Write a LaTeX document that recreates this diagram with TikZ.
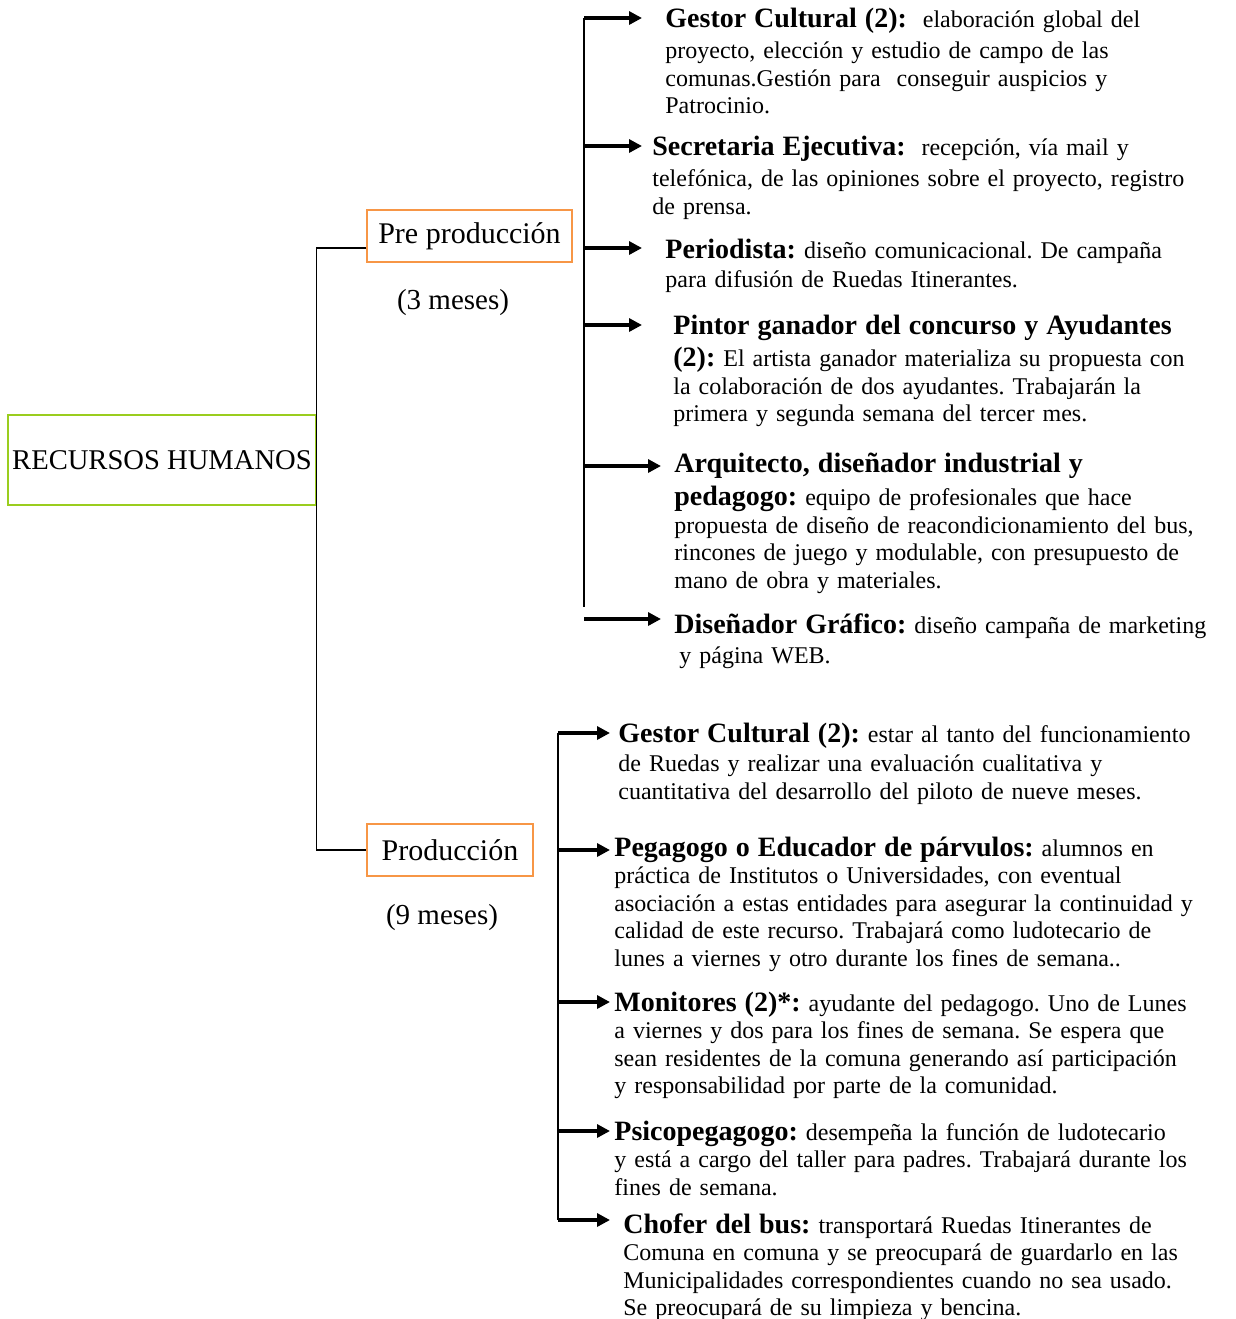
\documentclass[tikz,border=0pt]{standalone}
\usepackage{fontspec}
\setmainfont{Liberation Serif}
\usetikzlibrary{positioning,arrows.meta}

\definecolor{rootgreen}{RGB}{154,205,30}
\definecolor{stageorange}{RGB}{247,150,70}
\newcommand{\rol}[1]{{\fontsize{14}{13.75}\selectfont\bfseries #1}}
\frenchspacing

\begin{document}
\begin{tikzpicture}[x=0.5pt,y=-0.5pt,
      every node/.style={inner sep=0pt},
      rootbox/.style={draw=rootgreen,line width=0.8pt,minimum width=154pt,minimum height=45pt,
        font=\fontsize{14.3}{15}\selectfont},
      stagebox/.style={draw=stageorange,line width=0.8pt,minimum height=26pt,
        font=\fontsize{15}{16}\selectfont},
      months/.style={font=\fontsize{14.5}{16}\selectfont},
      item/.style={anchor=base west,text width=340pt,align=left,
        font=\fontsize{12}{13.75}\selectfont},
      arr/.style={line width=1.6pt,-{Triangle[length=6.5pt,width=6.5pt]}},
      spine/.style={line width=0.9pt},
      link/.style={line width=0.6pt}
    ]
    \useasboundingbox (0,0) rectangle (1236,1319);

    % the root and the two stages
    \node[rootbox] (rh) at (162,460) {RECURSOS HUMANOS};
    \node[stagebox,minimum width=102.5pt] (pre) at (469.5,236) {Pre producción};
    \node[months] (pret) at (453,303) {(3 meses)};
    \node[stagebox,minimum width=83pt] (pro) at (450,850) {Producción};
    \node[months] (prot) at (442,918) {(9 meses)};

    \draw[link] ([yshift=-6pt]pre.west) -| (rh.east) |- (pro.west);

    % the people of pre production
    \coordinate (pretop) at (584,18);
    \coordinate (prebot) at (584,607);
    \coordinate (pt1) at (642,18);
    \coordinate (pt2) at (642,146);
    \coordinate (pt3) at (642,248);
    \coordinate (pt4) at (642,325);
    \coordinate (pt5) at (661,466);
    \coordinate (pt6) at (661,619);

    \node[item] (g1) at (665,27) {\rol{Gestor Cultural (2):} \ elaboración global del\\[2pt]
      proyecto, elección y estudio de campo de las\\
      comunas.Gestión para \ conseguir auspicios y\\
      Patrocinio.};
    \node[item] (g2) at (652,155) {\rol{Secretaria Ejecutiva:} \ recepción, vía mail y\\[2pt]
      telefónica, de las opiniones sobre el proyecto, registro\\
      de prensa.};
    \node[item] (g3) at (665,258) {\rol{Periodista:} diseño comunicacional. De campaña\\[1pt]
      para difusión de Ruedas Itinerantes.};
    \node[item] (g4) at (673,334) {\rol{Pintor ganador del concurso y Ayudantes}\\[2.5pt]
      \rol{(2):} El artista ganador materializa su propuesta con\\
      la colaboración de dos ayudantes. Trabajarán la\\
      primera y segunda semana del tercer mes.};
    \node[item] (g5) at (674,472) {\rol{Arquitecto, diseñador industrial y}\\[3pt]
      \rol{pedagogo:} equipo de profesionales que hace\\
      propuesta de diseño de reacondicionamiento del bus,\\
      rincones de juego y modulable, con presupuesto de\\
      mano de obra y materiales.};
    \node[item] (g6) at (674,633) {\rol{Diseñador Gráfico:} diseño campaña de marketing\\[1.5pt]
      \hspace*{2.5pt}y página WEB.};

    \draw[spine] (pretop) -- (prebot);
    \foreach \k in {1,...,6}
      \draw[arr] (pt\k -| pretop) -- (pt\k);

    % the people of production
    \coordinate (protop) at (558,733);
    \coordinate (pt7) at (610,733);
    \coordinate (pt8) at (610,850);
    \coordinate (pt9) at (610,1002);
    \coordinate (pt10) at (610,1131);
    \coordinate (pt11) at (610,1220);

    \node[item] (p1) at (618,742) {\rol{Gestor Cultural (2):} estar al tanto del funcionamiento\\[1pt]
      de Ruedas y realizar una evaluación cualitativa y\\
      cuantitativa del desarrollo del piloto de nueve meses.};
    \node[item] (p2) at (614,856) {\rol{Pegagogo o Educador de párvulos:} alumnos en\\
      práctica de Institutos o Universidades, con eventual\\
      asociación a estas entidades para asegurar la continuidad y\\
      calidad de este recurso. Trabajará como ludotecario de\\
      lunes a viernes y otro durante los fines de semana..};
    \node[item] (p3) at (614,1011) {\rol{Monitores (2)*:} ayudante del pedagogo. Uno de Lunes\\
      a viernes y dos para los fines de semana. Se espera que\\
      sean residentes de la comuna generando así participación\\
      y responsabilidad por parte de la comunidad.};
    \node[item] (p4) at (614,1140) {\rol{Psicopegagogo:} desempeña la función de ludotecario\\
      y está a cargo del taller para padres. Trabajará durante los\\
      fines de semana.};
    \node[item] (p5) at (623,1233) {\rol{Chofer del bus:} transportará Ruedas Itinerantes de\\
      Comuna en comuna y se preocupará de guardarlo en las\\
      Municipalidades correspondientes cuando no sea usado.\\
      Se preocupará de su limpieza y bencina.};

    \draw[spine] (protop) -- (pt11 -| protop);
    \foreach \k in {7,...,11}
      \draw[arr] (pt\k -| protop) -- (pt\k);
\end{tikzpicture}
\end{document}
